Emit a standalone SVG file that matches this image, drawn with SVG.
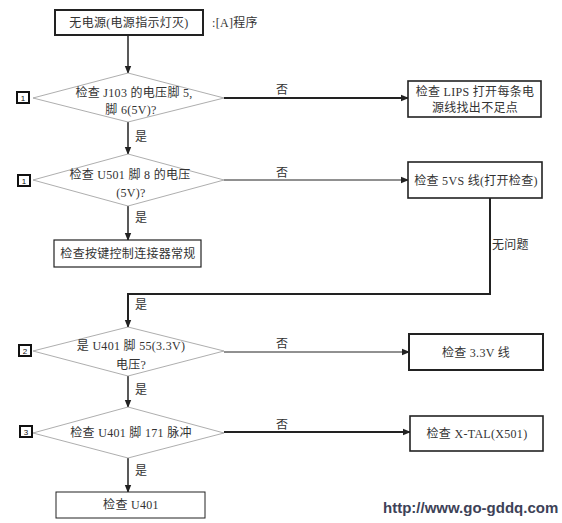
<svg xmlns="http://www.w3.org/2000/svg" width="562" height="523" viewBox="0 0 562 523">
<defs>
<marker id="ah" markerWidth="8" markerHeight="8" refX="7" refY="4" orient="auto" markerUnits="userSpaceOnUse">
<path d="M0,0.8 L8,4 L0,7.2 Z" fill="#222"/>
</marker>
</defs>
<style>
text{font-family:"Liberation Serif","Noto Sans CJK SC",serif;font-size:12px;fill:#333;letter-spacing:0.3px;}
.c{text-anchor:middle;}
.box{fill:#fff;stroke:#222;}
.dia{fill:#fff;stroke:#999;stroke-width:0.8;}
.mk{fill:#fff;stroke:#111;stroke-width:2;}
.mkt{font-family:"Liberation Sans",sans-serif;font-size:8px;text-anchor:middle;fill:#111;letter-spacing:0;}
.ln{fill:none;stroke:#222;}
.wm{font-family:"Liberation Sans",sans-serif;font-size:15px;font-weight:bold;fill:#3d4257;letter-spacing:0;}
</style>
<rect width="562" height="523" fill="#fff"/>
<g id="connectors">
<line class="ln" x1="128" y1="35" x2="128" y2="73" stroke-width="1.5" marker-end="url(#ah)"/>
<line class="ln" x1="224" y1="98" x2="408" y2="98" stroke-width="2" marker-end="url(#ah)"/>
<line class="ln" x1="128" y1="122" x2="128" y2="154" stroke-width="1.5" marker-end="url(#ah)"/>
<line class="ln" x1="224" y1="180" x2="408" y2="180" stroke-width="1" marker-end="url(#ah)"/>
<line class="ln" x1="128" y1="206" x2="128" y2="240" stroke-width="1.5" marker-end="url(#ah)"/>
<polyline class="ln" points="490,198 490,294 128,294 128,327" stroke-width="2" marker-end="url(#ah)"/>
<line class="ln" x1="224" y1="352" x2="409" y2="352" stroke-width="1" marker-end="url(#ah)"/>
<line class="ln" x1="128" y1="376" x2="128" y2="407" stroke-width="1.5" marker-end="url(#ah)"/>
<line class="ln" x1="224" y1="432" x2="410" y2="432" stroke-width="2" marker-end="url(#ah)"/>
<line class="ln" x1="128" y1="458" x2="128" y2="492" stroke-width="1.5" marker-end="url(#ah)"/>
<text x="276" y="94">否</text>
<text x="135" y="141">是</text>
<text x="276" y="177">否</text>
<text x="135" y="222">是</text>
<text x="492" y="249">无问题</text>
<text x="135" y="309">是</text>
<text x="276" y="348">否</text>
<text x="135" y="394">是</text>
<text x="276" y="429">否</text>
<text x="135" y="475">是</text>
</g>
<g id="start">
<rect class="box" x="55" y="10" width="148" height="25" stroke-width="2"/>
<text class="c" x="129" y="27">无电源(电源指示灯灭)</text>
<text x="212" y="27">:[A]程序</text>
</g>
<g id="d1">
<polygon class="dia" points="128,73 224,98 128,122 33,98"/>
<text class="c" x="134" y="97">检查 J103 的电压脚 5,</text>
<text class="c" x="131" y="114">脚 6(5V)?</text>
<rect class="mk" x="17" y="92" width="12" height="11"/>
<text class="mkt" x="23" y="100.5">1</text>
</g>
<g id="lips">
<rect class="box" x="408" y="81" width="133" height="36" stroke-width="1.6"/>
<text class="c" x="475" y="96">检查 LIPS 打开每条电</text>
<text class="c" x="475" y="112">源线找出不足点</text>
</g>
<g id="d2">
<polygon class="dia" points="128,154 224,180 128,206 33,180"/>
<text class="c" x="130" y="179">检查 U501 脚 8 的电压</text>
<text class="c" x="131" y="197">(5V)?</text>
<rect class="mk" x="18" y="175" width="12" height="11"/>
<text class="mkt" x="24" y="183.5">1</text>
</g>
<g id="v5vs">
<rect class="box" x="408" y="162" width="134" height="36" stroke-width="1.6"/>
<text class="c" x="476" y="185">检查 5VS 线(打开检查)</text>
</g>
<g id="keys">
<rect class="box" x="54" y="240" width="147" height="27" stroke-width="1.2"/>
<text class="c" x="128" y="258">检查按键控制连接器常规</text>
</g>
<g id="d3">
<polygon class="dia" points="128,327 224,351 128,376 33,351"/>
<text class="c" x="131" y="350">是 U401 脚 55(3.3V)</text>
<text class="c" x="131" y="369">电压?</text>
<rect class="mk" x="19" y="345" width="12" height="11"/>
<text class="mkt" x="25" y="353.5">2</text>
</g>
<g id="v33">
<rect class="box" x="409" y="334" width="134" height="36" stroke-width="2"/>
<text class="c" x="476" y="357">检查 3.3V 线</text>
</g>
<g id="d4">
<polygon class="dia" points="128,407 224,433 128,458 33,433"/>
<text class="c" x="131" y="437">检查 U401 脚 171 脉冲</text>
<rect class="mk" x="20" y="426" width="12" height="11"/>
<text class="mkt" x="26" y="434.5">3</text>
</g>
<g id="xtal">
<rect class="box" x="410" y="416" width="133" height="35" stroke-width="1.6"/>
<text class="c" x="477" y="438">检查 X-TAL(X501)</text>
</g>
<g id="u401">
<rect class="box" x="56" y="492" width="149" height="26" stroke-width="1"/>
<text class="c" x="131" y="509">检查 U401</text>
</g>
<text class="wm" x="383" y="513">http://www.go-gddq.com</text>
</svg>
